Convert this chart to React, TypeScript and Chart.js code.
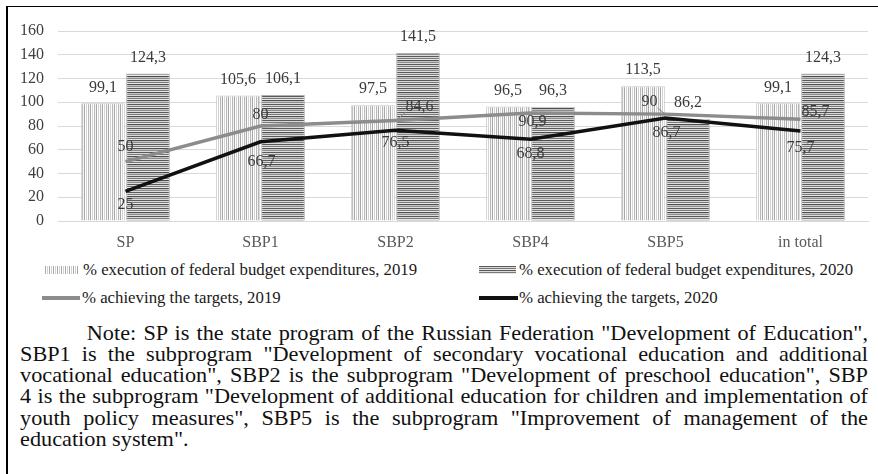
import React, { useEffect, useRef } from "react";
import { Chart, registerables } from "chart.js";

Chart.register(...registerables);

// ---- data ----
const categories = ["SP", "SBP1", "SBP2", "SBP4", "SBP5", "in total"];
const exec2019 = [99.1, 105.6, 97.5, 96.5, 113.5, 99.1];
const exec2020 = [124.3, 106.1, 141.5, 96.3, 86.2, 124.3];
const targets2019 = [50, 80, 84.6, 90.9, 90, 85.7];
const targets2020 = [25, 66.7, 76.5, 68.8, 86.7, 75.7];
const yMin = 0;
const yMax = 160;
const yStep = 20;

const seriesNames = [
  "% execution of federal budget expenditures, 2019",
  "% execution of federal budget expenditures, 2020",
  "% achieving the targets, 2019",
  "% achieving the targets, 2020",
];

const noteLines = [
  'Note: SP is the state program of the Russian Federation "Development of Education",',
  'SBP1 is the subprogram "Development of secondary vocational education and additional',
  'vocational education", SBP2 is the subprogram "Development of preschool education", SBP',
  '4 is the subprogram "Development of additional education for children and implementation of',
  'youth policy measures", SBP5 is the subprogram "Improvement of management of the',
  'education system".',
];

// ---- label placement (style) ----
const offsets2019: [number, number][] = [[0, -15], [0, -11], [24, -14], [2, 9], [-16, -12], [15, -7]];
const offsets2020: [number, number][] = [[0, 13], [1, 20], [0, 13], [0, 14], [1, 15], [0, 17]];
const leader2019 = [false, false, true, false, true, false];

const FONT = '"Liberation Serif", "Times New Roman", serif';

function fmt(v: number) {
  return String(v).replace(".", ",");
}

function makePattern(kind: "v" | "h"): CanvasPattern | string {
  const c = document.createElement("canvas");
  if (kind === "v") {
    const cols = ["#a8a8a8", "#ffffff", "#d2d2d2", "#ffffff", "#b8b8b8", "#f4f4f4"];
    c.width = cols.length;
    c.height = 4;
    const x = c.getContext("2d")!;
    cols.forEach((col, i) => {
      x.fillStyle = col;
      x.fillRect(i, 0, 1, 4);
    });
  } else {
    const rows = ["#5a5a5a", "#d8d8d8", "#7a7a7a", "#e6e6e6", "#4e4e4e", "#c4c4c4", "#8c8c8c", "#dcdcdc"];
    c.width = 4;
    c.height = rows.length;
    const x = c.getContext("2d")!;
    rows.forEach((col, i) => {
      x.fillStyle = col;
      x.fillRect(0, i, 4, 1);
    });
  }
  const p = c.getContext("2d")!.createPattern(c, "repeat");
  return p || "#aaa";
}

const labelPlugin = {
  id: "valueLabels",
  afterDatasetsDraw(chart: any) {
    const ctx = chart.ctx as CanvasRenderingContext2D;
    ctx.save();
    ctx.font = `16px ${FONT}`;
    ctx.textAlign = "center";
    ctx.textBaseline = "middle";
    chart.data.datasets.forEach((ds: any, di: number) => {
      const meta = chart.getDatasetMeta(di);
      meta.data.forEach((el: any, i: number) => {
        const v = ds.data[i];
        const text = fmt(v);
        let x = el.x;
        let y = el.y;
        if (ds.type === "bar") {
          y -= 16;
        } else {
          const is2019 = ds.label === seriesNames[2];
          const offs = is2019 ? offsets2019 : offsets2020;
          x += offs[i][0];
          y += offs[i][1];
          if (is2019 && leader2019[i]) {
            const w = ctx.measureText(text).width;
            const ex = offs[i][0] > 0 ? x - w / 2 : x + w / 2;
            const ey = y + 6;
            ctx.strokeStyle = "#8a8a8a";
            ctx.lineWidth = 1;
            ctx.beginPath();
            ctx.moveTo(el.x, el.y);
            ctx.lineTo(ex, ey);
            ctx.stroke();
          }
        }
        ctx.fillStyle = "#3a3a3a";
        ctx.fillText(text, x, y);
      });
    });
    ctx.restore();
  },
};

function ChartCanvas() {
  const ref = useRef<HTMLCanvasElement>(null);
  useEffect(() => {
    if (!ref.current) return;
    const chart = new Chart(ref.current, {
      type: "bar",
      data: {
        labels: categories,
        datasets: [
          {
            type: "bar",
            label: seriesNames[0],
            data: exec2019,
            backgroundColor: makePattern("v") as any,
            borderColor: "#c8c8c8",
            borderWidth: 1,
            categoryPercentage: 0.667,
            barPercentage: 0.97,
            order: 2,
          } as any,
          {
            type: "bar",
            label: seriesNames[1],
            data: exec2020,
            backgroundColor: makePattern("h") as any,
            borderColor: "#b0b0b0",
            borderWidth: 1,
            categoryPercentage: 0.667,
            barPercentage: 0.97,
            order: 2,
          } as any,
          {
            type: "line",
            label: seriesNames[2],
            data: targets2019,
            borderColor: "#8c8c8c",
            backgroundColor: "#8c8c8c",
            borderWidth: 3.5,
            pointRadius: 0,
            tension: 0,
            order: 1,
          } as any,
          {
            type: "line",
            label: seriesNames[3],
            data: targets2020,
            borderColor: "#111111",
            backgroundColor: "#111111",
            borderWidth: 3.5,
            pointRadius: 0,
            tension: 0,
            order: 0,
          } as any,
        ],
      },
      options: {
        animation: false,
        responsive: false,
        maintainAspectRatio: false,
        layout: { padding: { top: 31, right: 10, left: 0, bottom: 0 } },
        plugins: {
          legend: { display: false },
          tooltip: { enabled: false },
          title: { display: false },
        },
        scales: {
          x: {
            grid: { display: false, drawTicks: false },
            border: { display: true, color: "#d9d9d9" },
            ticks: { color: "#595959", font: { family: FONT, size: 16 }, padding: 12 },
            afterFit: (s: any) => {
              s.height = 35;
            },
          },
          y: {
            min: yMin,
            max: yMax,
            grid: { color: "#d9d9d9", drawTicks: false },
            border: { display: false },
            ticks: {
              stepSize: yStep,
              color: "#404040",
              font: { family: FONT, size: 16 },
              padding: 14,
            },
            afterFit: (s: any) => {
              s.width = 58;
            },
          },
        },
      },
      plugins: [labelPlugin],
    });
    return () => chart.destroy();
  }, []);
  return <canvas ref={ref} width={878} height={256} style={{ position: "absolute", left: 0, top: 0 }} />;
}

const vStripes =
  "repeating-linear-gradient(90deg, #a8a8a8 0px, #a8a8a8 1px, #ffffff 1px, #ffffff 2px, #d2d2d2 2px, #d2d2d2 3px, #ffffff 3px, #ffffff 4px)";
const hStripes =
  "repeating-linear-gradient(180deg, #5a5a5a 0px, #5a5a5a 1px, #d8d8d8 1px, #d8d8d8 2px, #7a7a7a 2px, #7a7a7a 3px, #e6e6e6 3px, #e6e6e6 4px)";

function LegendText(props: { left: number; top: number; text: string }) {
  return (
    <div
      style={{
        position: "absolute",
        left: props.left,
        top: props.top - 10,
        height: 20,
        lineHeight: "20px",
        fontFamily: FONT,
        fontSize: 16.8,
        color: "#1a1a1a",
        whiteSpace: "nowrap",
      }}
    >
      {props.text}
    </div>
  );
}

export default function App() {
  const noteScale = 1.06;
  const noteWidth = 848 / noteScale;
  return (
    <div style={{ position: "fixed", left: 0, top: 0, width: 878, height: 474, background: "#fff", overflow: "hidden" }}>
      <div
        style={{
          position: "absolute",
          left: 6,
          top: 6,
          width: 878,
          height: 520,
          borderLeft: "2px solid #000",
          borderTop: "1.5px solid #000",
          boxSizing: "border-box",
        }}
      />
      <ChartCanvas />
      {/* legend */}
      <div style={{ position: "absolute", left: 45, top: 266, width: 33, height: 8, background: vStripes }} />
      <LegendText left={83} top={270} text={seriesNames[0]} />
      <div style={{ position: "absolute", left: 479, top: 266, width: 37, height: 8, background: hStripes }} />
      <LegendText left={519} top={270} text={seriesNames[1]} />
      <div style={{ position: "absolute", left: 42, top: 296, width: 38, height: 3.5, background: "#8c8c8c" }} />
      <LegendText left={82} top={298} text={seriesNames[2]} />
      <div style={{ position: "absolute", left: 479, top: 296, width: 39, height: 3.5, background: "#111" }} />
      <LegendText left={519} top={298} text={seriesNames[3]} />
      {/* note */}
      <div
        style={{
          position: "absolute",
          left: 20,
          top: 322.5,
          width: noteWidth,
          transform: `scaleX(${noteScale})`,
          transformOrigin: "0 0",
          fontFamily: FONT,
          fontSize: 21,
          lineHeight: "21.3px",
          color: "#111",
        }}
      >
        {noteLines.map((l, i) => (
          <div
            key={i}
            style={{
              whiteSpace: "nowrap",
              textAlign: "left",
              textAlignLast: i < noteLines.length - 1 ? "justify" : "left",
              textIndent: i === 0 ? 63 : 0,
              height: 21.3,
            }}
          >
            {l}
          </div>
        ))}
      </div>
    </div>
  );
}
